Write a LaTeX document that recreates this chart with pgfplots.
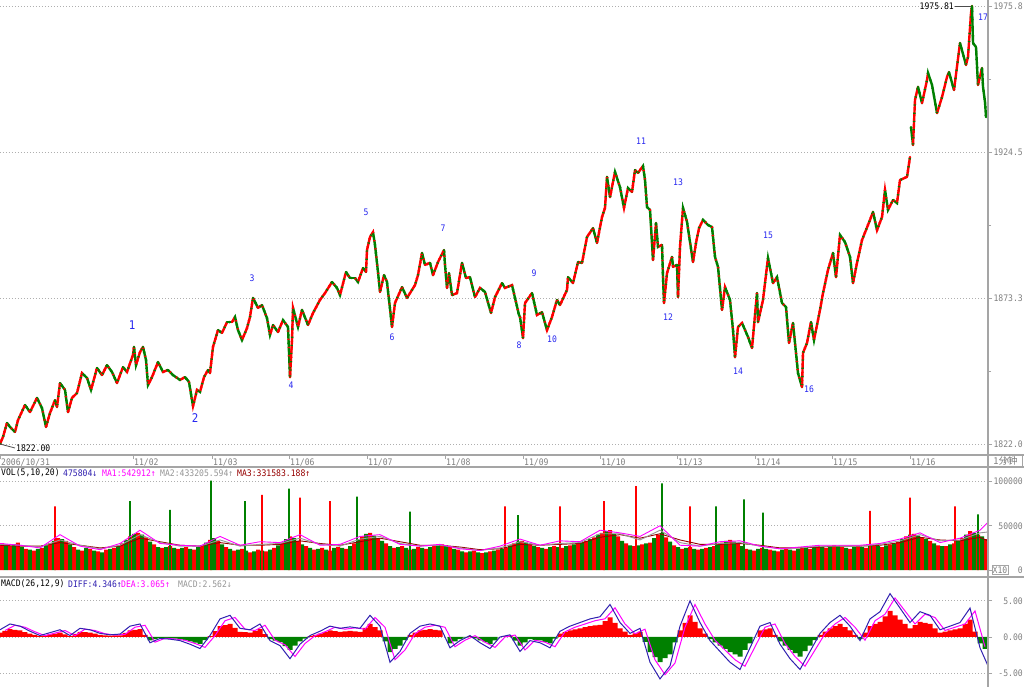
\documentclass[border=0pt]{standalone}
\usepackage{fontspec}
\usepackage{pgfplots}
\usepackage{pgfplotstable}
\pgfplotsset{compat=1.18}
\newfontfamily\hdr[FakeStretch=0.9]{DejaVu Sans Mono}
\newfontfamily\cjk{Noto Sans CJK SC}
\newcommand\hf{\hdr\fontsize{9}{10}\selectfont}
\newcommand\hfb{\hdr\fontsize{12}{13}\selectfont}
\definecolor{cred}{RGB}{255,0,0}
\definecolor{cgreen}{RGB}{0,128,0}
\definecolor{wblue}{RGB}{40,40,240}
\definecolor{framec}{RGB}{165,165,165}
\definecolor{tlab}{RGB}{128,128,128}
\definecolor{gridc}{RGB}{175,175,175}
\definecolor{navyc}{RGB}{48,32,176}
\definecolor{magc}{RGB}{255,0,255}
\definecolor{ma2c}{RGB}{150,150,150}
\definecolor{ma3c}{RGB}{150,0,0}

\pgfplotstableread{
x y c
0 1822.0 1
3 1824.5 1
7 1829.4 0
10 1828.0 0
15 1826.2 1
18 1830.4 1
25 1835.7 0
30 1833.2 1
37 1838.2 0
42 1834.6 0
46 1828.0 1
50 1832.9 1
55 1837.4 0
57 1835.0 1
60 1843.4 0
65 1841.0 0
68 1833.2 1
72 1838.2 1
77 1839.9 1
82 1846.9 0
87 1845.2 0
91 1841.0 1
97 1848.7 0
102 1846.2 1
107 1849.7 0
112 1847.3 0
117 1843.4 1
123 1849.0 0
127 1847.3 1
133 1853.3 1
134 1856.1 0
136 1849.7 1
140 1854.3 1
143 1856.1 0
146 1851.5 0
148 1842.7 1
152 1845.5 1
158 1850.8 0
163 1847.3 1
168 1848.0 0
173 1846.2 0
180 1844.5 1
185 1845.5 0
189 1843.8 0
193 1835.3 1
197 1841.0 0
200 1840.3 1
204 1845.5 1
208 1848.0 0
210 1846.9 1
213 1856.1 1
218 1862.0 0
222 1861.0 1
227 1864.8 0
232 1864.8 1
235 1866.6 0
238 1862.0 0
242 1858.5 1
247 1862.7 1
250 1866.6 1
253 1873.3 0
258 1869.8 1
262 1870.8 0
267 1866.2 0
270 1860.3 1
273 1863.8 0
278 1861.3 1
283 1865.5 0
288 1863.1 0
290 1845.5 1
292 1858.5 1
293 1869.8 0
298 1863.1 1
302 1869.1 0
308 1863.8 1
313 1868.0 1
320 1872.6 1
325 1875.0 1
332 1878.9 0
337 1876.8 0
340 1874.3 1
346 1882.4 0
350 1880.3 0
355 1880.3 0
358 1878.9 1
363 1883.8 0
366 1882.4 1
367 1890.1 1
370 1894.7 1
373 1896.4 0
375 1891.9 0
378 1882.4 0
380 1875.4 1
384 1881.3 0
387 1878.9 0
389 1872.6 0
392 1863.1 1
395 1871.5 1
402 1877.1 0
407 1873.3 1
415 1877.8 1
418 1881.3 1
422 1889.1 0
425 1884.9 1
430 1885.6 0
433 1881.3 1
438 1885.9 1
444 1890.1 0
445 1884.9 0
447 1876.8 1
449 1882.0 0
452 1874.3 1
457 1875.0 1
462 1885.6 0
466 1880.3 1
470 1880.6 0
475 1873.6 1
480 1876.8 0
485 1875.4 0
491 1868.0 1
495 1873.6 1
502 1878.5 0
505 1876.8 1
512 1877.8 0
515 1873.3 0
519 1867.3 0
520 1866.6 0
523 1859.2 1
525 1871.5 1
532 1875.0 0
537 1867.3 1
542 1868.3 0
547 1862.0 1
552 1866.6 1
557 1872.6 0
560 1870.8 1
567 1876.1 1
568 1880.6 0
573 1878.5 1
578 1885.9 0
582 1885.6 1
587 1894.7 1
593 1897.8 0
597 1892.6 1
602 1901.7 1
605 1904.9 1
607 1915.8 0
610 1908.7 1
615 1917.5 0
620 1912.2 0
624 1904.9 1
628 1911.9 0
632 1910.5 1
635 1918.2 0
638 1917.2 1
643 1919.6 0
645 1914.7 0
647 1905.2 0
650 1904.2 0
653 1886.6 1
656 1899.6 0
658 1891.2 1
662 1891.9 0
663 1880.6 0
664 1871.5 1
667 1882.0 1
672 1887.7 0
673 1884.2 1
677 1884.9 0
678 1873.6 1
680 1891.2 1
683 1904.9 0
687 1900.0 0
693 1885.9 1
696 1892.6 1
699 1897.8 1
703 1900.7 0
708 1898.9 0
712 1898.2 0
715 1887.7 0
718 1884.2 0
722 1869.1 1
725 1877.1 0
730 1872.6 0
733 1862.0 0
735 1852.5 1
738 1863.1 1
742 1864.5 0
748 1859.6 0
752 1855.7 1
757 1875.0 0
758 1864.8 1
763 1872.6 1
768 1887.3 0
773 1878.5 1
777 1880.6 0
782 1871.5 0
786 1870.1 0
789 1857.5 1
793 1864.5 0
798 1846.9 0
802 1842.0 1
803 1854.0 1
807 1857.5 1
811 1864.8 0
814 1858.5 1
820 1869.1 1
823 1875.0 1
828 1883.1 1
833 1889.1 0
836 1880.6 1
840 1895.4 0
845 1892.9 0
850 1887.7 0
853 1878.5 1
857 1885.6 1
862 1893.6 1
870 1900.7 1
873 1903.5 0
877 1897.1 1
882 1901.7 1
885 1911.2 0
888 1904.2 1
893 1907.7 0
897 1906.6 1
900 1914.7 1
907 1915.8 1
910 1922.8 0
911 1933.3 0
913 1927.0 1
915 1942.8 1
918 1947.4 0
922 1941.7 1
927 1949.8 1
928 1952.3 0
932 1948.1 0
937 1938.2 1
942 1943.8 1
947 1950.9 1
949 1952.6 0
954 1946.3 1
960 1962.8 0
966 1955.1 1
968 1957.9 1
971 1973.3 1
972 1975.8 0
973 1962.8 0
976 1961.4 0
978 1948.1 1
982 1954.0 0
983 1947.4 0
985 1942.1 0
986 1936.8 0
}\price

\pgfplotstableread{
x y
2 30000
10 27000
18 31000
26 24000
34 22000
42 25000
50 30000
58 36000
66 33000
74 26000
82 22000
90 24000
98 21000
106 23000
114 25000
122 30000
130 38000
138 42000
146 37000
154 29000
162 25000
170 27000
178 24000
186 26000
194 23000
202 28000
210 34000
218 33000
226 26000
234 22000
242 24000
250 20000
258 23000
266 21000
274 25000
282 31000
290 38000
298 33000
306 27000
314 23000
322 25000
330 22000
338 26000
346 24000
354 30000
362 38000
370 42000
378 36000
386 30000
394 25000
402 27000
410 23000
418 26000
426 24000
434 27000
442 29000
450 26000
458 23000
466 20000
474 22000
482 19000
490 21000
498 23000
506 25000
514 30000
522 33000
530 29000
538 26000
546 24000
554 27000
562 25000
570 28000
578 30000
586 33000
594 37000
602 42000
610 45000
618 38000
626 30000
634 27000
642 29000
650 31000
658 40000
666 37000
674 28000
682 24000
690 26000
698 23000
706 25000
714 27000
722 31000
730 34000
738 30000
746 24000
754 22000
762 25000
770 23000
778 21000
786 24000
794 22000
802 26000
810 24000
818 27000
826 25000
834 28000
842 26000
850 24000
858 27000
866 25000
874 28000
882 26000
890 29000
898 32000
906 38000
914 41000
922 37000
930 33000
938 28000
946 27000
954 30000
962 36000
970 44000
978 40000
986 35000
}\volred

\pgfplotstableread{
x y
6 28000
14 29000
22 26000
30 23000
38 24000
46 28000
54 33000
62 35000
70 29000
78 23000
86 25000
94 22000
102 20000
110 24000
118 27000
126 34000
134 41000
142 40000
150 32000
158 26000
166 26000
174 25000
182 25000
190 24000
198 26000
206 31000
214 36000
222 29000
230 24000
238 23000
246 22000
254 21000
262 22000
270 23000
278 28000
286 35000
294 36000
302 29000
310 25000
318 24000
326 23000
334 25000
342 25000
350 27000
358 34000
366 41000
374 39000
382 33000
390 27000
398 26000
406 25000
414 24000
422 25000
430 26000
438 28000
446 28000
454 24000
462 21000
470 21000
478 20000
486 20000
494 22000
502 24000
510 28000
518 32000
526 31000
534 27000
542 25000
550 26000
558 26000
566 27000
574 29000
582 31000
590 35000
598 40000
606 44000
614 41000
622 33000
630 28000
638 28000
646 30000
654 36000
662 42000
670 32000
678 26000
686 25000
694 24000
702 24000
710 26000
718 29000
726 33000
734 32000
742 27000
750 23000
758 24000
766 24000
774 22000
782 23000
790 23000
798 24000
806 25000
814 26000
822 26000
830 27000
838 27000
846 25000
854 26000
862 26000
870 27000
878 27000
886 28000
894 30000
902 35000
910 40000
918 39000
926 35000
934 30000
942 27000
950 29000
958 33000
966 40000
974 42000
982 38000
}\volgreen

\pgfplotstableread{
x y
55 72000
262 85000
300 82000
330 78000
505 72000
560 72000
604 78000
636 95000
690 72000
870 67000
910 82000
955 72000
}\spikered

\pgfplotstableread{
x y
130 78000
170 68000
211 101000
245 78000
289 92000
357 83000
410 66000
518 62000
662 98000
716 72000
744 80000
763 65000
978 63000
}\spikegreen

\pgfplotstableread{
x a b c
0 30000 29000 28000
20 28000 28000 27000
40 25000 26000 27000
60 40000 34000 31000
80 27000 28000 28000
100 23000 24000 25000
120 30000 28000 27000
140 45000 40000 36000
160 30000 31000 32000
180 28000 27000 28000
200 27000 27000 27000
220 38000 34000 31000
240 28000 27000 28000
260 32000 29000 28000
280 31000 30000 29000
300 40000 36000 33000
320 28000 29000 30000
340 29000 27000 28000
360 38000 35000 32000
380 40000 38000 36000
400 29000 30000 32000
420 27000 27000 28000
440 29000 28000 28000
460 24000 25000 26000
480 22000 22000 23000
500 27000 25000 24000
520 35000 32000 29000
540 28000 28000 28000
560 33000 30000 29000
580 32000 31000 30000
600 45000 41000 37000
620 42000 41000 40000
640 38000 34000 36000
660 50000 45000 41000
680 28000 31000 34000
700 27000 27000 29000
720 32000 30000 29000
740 33000 31000 30000
760 27000 27000 28000
780 24000 24000 25000
800 26000 25000 25000
820 28000 27000 26000
840 28000 27000 27000
860 28000 27000 27000
880 30000 29000 28000
900 35000 33000 31000
920 42000 40000 37000
940 31000 33000 34000
960 36000 34000 33000
980 45000 42000 37000
988 54000 43000 33000
}\volma

\pgfplotstableread{
x y
0 1.0
10 1.8
20 1.5
30 0.8
40 0.2
50 0.6
60 1.0
70 0.2
80 1.2
90 1.0
100 0.5
110 0.3
120 0.4
130 1.5
140 1.8
150 -0.8
160 -0.2
170 -0.3
180 -0.5
190 -1.0
200 -1.6
210 0.2
220 2.5
230 3.0
240 1.2
250 1.0
260 1.8
270 -0.5
280 -1.2
290 -3.0
300 -1.0
310 0.2
320 0.8
330 1.5
340 1.2
350 1.4
360 1.2
370 3.0
380 1.5
390 -3.5
400 -2.0
410 0.5
420 1.5
430 1.8
440 1.5
450 -1.5
460 -0.5
470 0.2
480 -0.8
490 -1.6
500 0.0
510 0.3
520 -2.0
530 -0.5
540 -0.8
550 -1.5
560 0.8
570 1.5
580 2.0
590 2.5
600 2.8
610 4.5
620 2.0
630 0.5
640 1.2
650 -3.5
660 -5.8
670 -4.0
680 1.5
690 5.0
700 2.0
710 -0.5
720 -2.0
730 -3.5
740 -4.5
750 -1.5
760 1.5
770 2.0
780 -1.0
790 -3.0
800 -4.5
810 -2.0
820 0.5
830 2.0
840 3.0
850 1.5
860 -0.5
870 2.5
880 3.5
890 6.0
900 4.0
910 2.0
920 3.5
930 3.0
940 1.0
950 1.5
960 2.0
970 4.0
980 -1.5
988 -4.0
}\diff

\pgfplotstableread{
x y
5 0.9
15 1.62
25 1.35
35 0.72
45 0.18
55 0.54
65 0.9
75 0.18
85 1.08
95 0.9
105 0.45
115 0.27
125 0.36
135 1.35
145 1.62
155 -0.72
165 -0.18
175 -0.27
185 -0.45
195 -0.9
205 -1.44
215 0.18
225 2.25
235 2.7
245 1.08
255 0.9
265 1.62
275 -0.45
285 -1.08
295 -2.7
305 -0.9
315 0.18
325 0.72
335 1.35
345 1.08
355 1.26
365 1.08
375 2.7
385 1.35
395 -3.15
405 -1.8
415 0.45
425 1.35
435 1.62
445 1.35
455 -1.35
465 -0.45
475 0.18
485 -0.72
495 -1.44
505 0
515 0.27
525 -1.8
535 -0.45
545 -0.72
555 -1.35
565 0.72
575 1.35
585 1.8
595 2.25
605 2.52
615 4.05
625 1.8
635 0.45
645 1.08
655 -3.15
665 -5.22
675 -3.6
685 1.35
695 4.5
705 1.8
715 -0.45
725 -1.8
735 -3.15
745 -4.05
755 -1.35
765 1.35
775 1.8
785 -0.9
795 -2.7
805 -4.05
815 -1.8
825 0.45
835 1.8
845 2.7
855 1.35
865 -0.45
875 2.25
885 3.15
895 5.4
905 3.6
915 1.8
925 3.15
935 2.7
945 0.9
955 1.35
965 1.8
975 3.6
985 -1.35
}\dea

\pgfplotstableread{
x y
0 0.6
5 0.84
10 1.08
15 0.99
20 0.9
25 0.69
30 0.48
35 0.3
40 0.12
45 0.24
50 0.36
55 0.48
60 0.6
65 0.36
70 0.12
75 0.42
80 0.72
85 0.66
90 0.6
95 0.45
100 0.3
105 0.24
110 0.18
115 0.21
120 0.24
125 0.57
130 0.9
135 0.99
140 1.08
145 0.3
210 0.12
215 0.81
220 1.5
225 1.65
230 1.8
235 1.26
240 0.72
245 0.66
250 0.6
255 0.84
260 1.08
265 0.39
310 0.12
315 0.3
320 0.48
325 0.69
330 0.9
335 0.81
340 0.72
345 0.78
350 0.84
355 0.78
360 0.72
365 1.26
370 1.8
375 1.35
380 0.9
410 0.3
415 0.6
420 0.9
425 0.99
430 1.08
435 0.99
440 0.9
470 0.12
505 0.09
510 0.18
560 0.48
565 0.69
570 0.9
575 1.05
580 1.2
585 1.35
590 1.5
595 1.59
600 1.68
605 2.19
610 2.7
615 1.95
620 1.2
625 0.75
630 0.3
635 0.51
640 0.72
680 0.9
685 1.95
690 3.0
695 2.1
700 1.2
705 0.45
760 0.9
765 1.05
770 1.2
775 0.3
820 0.3
825 0.75
830 1.2
835 1.5
840 1.8
845 1.35
850 0.9
855 0.3
865 0.6
870 1.5
875 1.8
880 2.1
885 2.85
890 3.6
895 3.0
900 2.4
905 1.8
910 1.2
915 1.65
920 2.1
925 1.95
930 1.8
935 1.2
940 0.6
945 0.75
950 0.9
955 1.05
960 1.2
965 1.8
970 2.4
975 0.75
}\histred

\pgfplotstableread{
x y
150 -0.48
155 -0.3
160 -0.12
165 -0.15
170 -0.18
175 -0.24
180 -0.3
185 -0.45
190 -0.6
195 -0.78
200 -0.96
205 -0.42
270 -0.3
275 -0.51
280 -0.72
285 -1.26
290 -1.8
295 -1.2
300 -0.6
305 -0.24
385 -0.6
390 -2.1
395 -1.65
400 -1.2
405 -0.45
450 -0.9
455 -0.6
460 -0.3
465 -0.09
475 -0.18
480 -0.48
485 -0.72
490 -0.96
495 -0.48
515 -0.51
520 -1.2
525 -0.75
530 -0.3
535 -0.39
540 -0.48
545 -0.69
550 -0.9
555 -0.21
645 -0.69
650 -2.1
655 -2.79
660 -3.48
665 -2.94
670 -2.4
675 -0.75
710 -0.3
715 -0.75
720 -1.2
725 -1.65
730 -2.1
735 -2.4
740 -2.7
745 -1.8
750 -0.9
780 -0.6
785 -1.2
790 -1.8
795 -2.25
800 -2.7
805 -1.95
810 -1.2
815 -0.45
860 -0.3
980 -0.9
985 -1.65
}\histgreen

\pgfplotsset{
  panel/.style={
    scale only axis, width=988pt, xmin=0, xmax=988,
    anchor=north west,
    axis line style={draw=none},
    clip mode=individual,
    ymajorgrids,
    grid style={gridc, line width=0.8pt, dash pattern=on 1pt off 2pt},
    ytick pos=right, yticklabel pos=right,
    tick align=outside, major tick length=4pt, minor tick length=3pt,
    tick style={framec, line width=0.8pt},
    yticklabel style={font=\hf, text=tlab, anchor=east, inner sep=0pt, xshift=31pt},
    xticklabel style={font=\hf, text=tlab},
  },
  pricemesh/.style={mesh, shader=flat corner, point meta=explicit,
    line width=2.4pt, line cap=round, line join=round},
  speck/.style={line width=2.4pt, dash pattern=on 1.2pt off 7pt},
}

\begin{document}
\begin{tikzpicture}
\useasboundingbox (0,0) rectangle (1024pt,-687pt);
\fill[white] (0,0) rectangle (1024pt,-687pt);

% ---------------- price panel
\begin{axis}[panel, at={(0pt,0pt)}, height=455pt,
  ymin=1818.14, ymax=1977.91,
  ytick={1822.0,1873.3,1924.5,1975.8},
  yticklabels={1822.0,1873.3,1924.5,1975.8},
  minor ytick={1847.65,1898.9,1950.15},
  xtick={0,133,212,289,367,445,523,600,677,755,832,910},
  xticklabels={2006/10/31,11/02,11/03,11/06,11/07,11/08,11/09,11/10,11/13,11/14,11/15,11/16},
  xtick pos=bottom,
  xticklabel style={anchor=north west, inner sep=0pt, xshift=1pt},
  colormap={updown}{color=(cgreen) color=(cred)},
  point meta min=0, point meta max=1]
\addplot[pricemesh, restrict x to domain=0:910.2] table[meta=c] {\price};
\addplot[pricemesh, restrict x to domain=910.8:990] table[meta=c] {\price};
\addplot[speck, cgreen, restrict x to domain=0:910.2] table[x=x,y=y] {\price};
\addplot[speck, cred, dash phase=4pt, restrict x to domain=0:910.2] table[x=x,y=y] {\price};
\addplot[speck, cgreen, restrict x to domain=910.8:990] table[x=x,y=y] {\price};
\begin{scope}[wblue, font=\hf]
\node at (axis cs:132,1863.8) {\hfb 1};
\node at (axis cs:195,1831.1) {\hfb 2};
\node at (axis cs:252,1880.3) {3};
\node at (axis cs:291,1842.7) {4};
\node at (axis cs:366,1903.5) {5};
\node at (axis cs:392,1859.6) {6};
\node at (axis cs:443,1897.8) {7};
\node at (axis cs:519,1856.8) {8};
\node at (axis cs:534,1882.0) {9};
\node at (axis cs:552,1858.9) {10};
\node at (axis cs:641,1928.4) {11};
\node at (axis cs:668,1866.6) {12};
\node at (axis cs:678,1914.0) {13};
\node at (axis cs:738,1847.6) {14};
\node at (axis cs:768,1895.4) {15};
\node at (axis cs:809,1841.3) {16};
\node at (axis cs:983,1971.9) {17};
\end{scope}
\draw[black!70, line width=0.8pt] (axis cs:955,1975.8) -- (axis cs:971,1975.8);
\node[anchor=east, inner sep=1pt, font=\hf] at (axis cs:955,1975.8) {1975.81};
\draw[black!70, line width=0.8pt] (axis cs:0,1822.0) -- (axis cs:15,1820.6);
\node[anchor=west, inner sep=1pt, font=\hf] at (axis cs:15,1820.6) {1822.00};
\end{axis}

% ---------------- volume panel
\begin{axis}[panel, at={(0pt,-467pt)}, height=110pt,
  ymin=-7917, ymax=116500,
  ytick={50000,100000}, yticklabels={50000,100000},
  extra y ticks={0}, extra y tick labels={0},
  extra y tick style={grid=none},
  xtick=\empty]
\addplot[ybar, bar width=4pt, bar shift=0pt, fill=cred, draw=none] table {\volred};
\addplot[ybar, bar width=4pt, bar shift=0pt, fill=cgreen, draw=none] table {\volgreen};
\addplot[ybar, bar width=1.6pt, bar shift=0pt, fill=cred, draw=none] table {\spikered};
\addplot[ybar, bar width=1.6pt, bar shift=0pt, fill=cgreen, draw=none] table {\spikegreen};
\addplot[ma3c, line width=0.9pt] table[y=c] {\volma};
\addplot[ma2c, line width=0.9pt] table[y=b] {\volma};
\addplot[magc, line width=0.9pt] table[y=a] {\volma};
\end{axis}

% ---------------- MACD panel
\begin{axis}[panel, at={(0pt,-577pt)}, height=110pt,
  ymin=-6.92, ymax=8.30,
  ytick={-5,0,5}, yticklabels={-5.00,0.00,5.00},
  xtick=\empty]
\addplot[ybar, bar width=5pt, bar shift=0pt, fill=cred, draw=none] table {\histred};
\addplot[ybar, bar width=5pt, bar shift=0pt, fill=cgreen, draw=none] table {\histgreen};
\addplot[magc, line width=1pt] table {\dea};
\addplot[navyc, line width=1pt] table {\diff};
\end{axis}

% ---------------- frames and headers
\draw[framec, line width=1.2pt] (988pt,0) -- (988pt,-687pt);
\draw[framec, line width=1.2pt] (0,-455pt) -- (1024pt,-455pt);
\draw[framec, line width=1.2pt] (0,-467pt) -- (1024pt,-467pt);
\draw[framec, line width=1.2pt] (0,-577pt) -- (1024pt,-577pt);
\draw[framec, line width=1pt] (1022.5pt,-455pt) -- (1022.5pt,-467pt);
\node[text=tlab, inner sep=0pt] at (1005.5pt,-461pt) {\cjk\fontsize{9.5}{10}\selectfont 1分钟};
\node[font=\hf, text=tlab, draw=framec, inner sep=1pt] at (1000pt,-570pt) {X10};

\node[anchor=west, inner sep=0pt, font=\hf] at (1pt,-473pt) {VOL(5,10,20)};
\node[anchor=west, inner sep=0pt, font=\hf, text=navyc] at (63pt,-473pt) {475804↓};
\node[anchor=west, inner sep=0pt, font=\hf, text=magc] at (102pt,-473pt) {MA1:542912↑};
\node[anchor=west, inner sep=0pt, font=\hf, text=ma2c] at (160pt,-473pt) {MA2:433205.594↑};
\node[anchor=west, inner sep=0pt, font=\hf, text=ma3c] at (237pt,-473pt) {MA3:331583.188↑};

\node[anchor=west, inner sep=0pt, font=\hf] at (1pt,-584pt) {MACD(26,12,9)};
\node[anchor=west, inner sep=0pt, font=\hf, text=navyc] at (68pt,-584pt) {DIFF:4.346↑};
\node[anchor=west, inner sep=0pt, font=\hf, text=magc] at (121pt,-584pt) {DEA:3.065↑};
\node[anchor=west, inner sep=0pt, font=\hf, text=ma2c] at (178pt,-584pt) {MACD:2.562↓};
\end{tikzpicture}
\end{document}
